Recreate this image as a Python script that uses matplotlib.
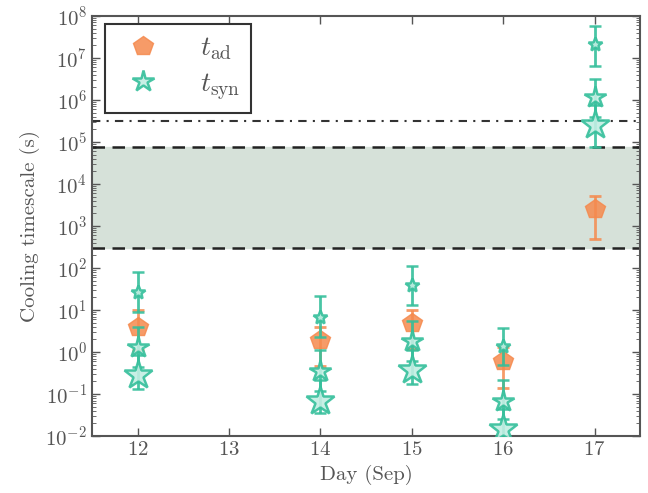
import numpy as np
import matplotlib
matplotlib.use("Agg")
import matplotlib.pyplot as plt
from matplotlib.lines import Line2D
from matplotlib.ticker import LogLocator, NullFormatter

plt.rcParams['font.family'] = ['cmr10', 'DejaVu Serif']
plt.rcParams['mathtext.fontset'] = 'cm'
plt.rcParams['axes.formatter.use_mathtext'] = True
plt.rcParams['text.color'] = '#555555'
plt.rcParams['axes.labelcolor'] = '#555555'
plt.rcParams['xtick.color'] = '#555555'
plt.rcParams['ytick.color'] = '#555555'

# data
days = [12, 14, 15, 16, 17]

t_ad = [4.0, 1.9, 4.8, 0.62, 2.6e3]
t_ad_hi = [10.0, 4.0, 10.0, 1.3, 5.2e3]
t_ad_lo = [1.1, 0.47, 1.2, 0.14, 490.0]

# three synchrotron estimates per day (small, medium, large markers)
t_syn_a = [27.0, 7.0, 39.0, 1.4, 2.2e7]
t_syn_a_hi = [80.0, 21.0, 110.0, 3.8, 5.9e7]
t_syn_a_lo = [9.0, 2.3, 13.0, 0.5, 6.5e6]

t_syn_b = [1.3, 0.36, 1.8, 0.07, 1.2e6]
t_syn_b_hi = [3.9, 1.1, 5.4, 0.21, 3.1e6]
t_syn_b_lo = [0.45, 0.12, 0.6, 0.025, 4.0e5]

t_syn_c = [0.29, 0.07, 0.38, 0.015, 2.5e5]
t_syn_c_hi = [0.87, 0.21, 1.1, 0.045, 7.5e5]
t_syn_c_lo = [0.13, 0.035, 0.17, 0.007, 7.4e4]

band_lo, band_hi = 300.0, 7.8e4
dashdot_level = 3.1e5

orange = '#f58a4e'
teal = '#35bf9b'
teal_face = '#c2eee3'

fig = plt.figure(figsize=(6.48, 4.93), dpi=100)
ax = fig.add_axes([0.142, 0.1156, 0.846, 0.852])

ax.axhspan(band_lo, band_hi, color='#d6e1d9', zorder=0)
ax.axhline(band_lo, color='#222222', ls='--', lw=1.8, dashes=(5, 3))
ax.axhline(band_hi, color='#222222', ls='--', lw=1.8, dashes=(5, 3))
ax.axhline(dashdot_level, color='#333333', ls='-.', lw=1.5, dashes=(4, 3, 1, 3))

def err(v, hi, lo):
    v = np.array(v)
    return [v - np.array(lo), np.array(hi) - v]

ax.errorbar(days, t_ad, yerr=err(t_ad, t_ad_hi, t_ad_lo), fmt='p', color=orange,
            mfc=orange, mec=orange, ms=15, elinewidth=2, capsize=4, capthick=2,
            alpha=0.85, zorder=3)

for vals, hi, lo, size in [(t_syn_a, t_syn_a_hi, t_syn_a_lo, 10),
                           (t_syn_b, t_syn_b_hi, t_syn_b_lo, 16),
                           (t_syn_c, t_syn_c_hi, t_syn_c_lo, 21)]:
    ax.errorbar(days, vals, yerr=err(vals, hi, lo), fmt='*', color=teal,
                mfc=teal_face, mec=teal, mew=1.8, ms=size, elinewidth=2,
                capsize=4, capthick=2, alpha=0.9, zorder=4)

ax.set_yscale('log')
ax.set_ylim(1e-2, 1e8)
ax.set_xlim(11.5, 17.5)
ax.set_xticks([12, 13, 14, 15, 16, 17])
ax.yaxis.set_major_locator(LogLocator(base=10, numticks=20))
ax.yaxis.set_minor_locator(LogLocator(base=10, subs=np.arange(2, 10), numticks=20))
ax.yaxis.set_minor_formatter(NullFormatter())
ax.tick_params(direction='in', top=True, right=True, labelsize=15, length=6, width=1)
ax.tick_params(which='minor', direction='in', right=True, length=3)
for s in ax.spines.values():
    s.set_color('#555555')
    s.set_linewidth(1.5)

ax.set_xlabel('Day (Sep)', fontsize=15)
ax.set_ylabel('Cooling timescale (s)', fontsize=15)

handles = [Line2D([], [], ls='none', marker='p', ms=15, color=orange, alpha=0.85),
           Line2D([], [], ls='none', marker='*', ms=16, mfc=teal_face, mec=teal,
                  mew=1.8, alpha=0.9)]
leg = ax.legend(handles, [r'$t_{\rm ad}$', r'$t_{\rm syn}$'], loc='upper left',
                fontsize=20, numpoints=1, fancybox=False, framealpha=1,
                borderpad=0.4, labelspacing=0.3, handletextpad=1.1,
                handlelength=1.9, borderaxespad=0.0,
                bbox_to_anchor=(0.024, 0.981))
leg.get_frame().set_edgecolor('#333333')
leg.get_frame().set_linewidth(1.5)
leg.set_zorder(10)

fig.savefig('out.png', dpi=100)
